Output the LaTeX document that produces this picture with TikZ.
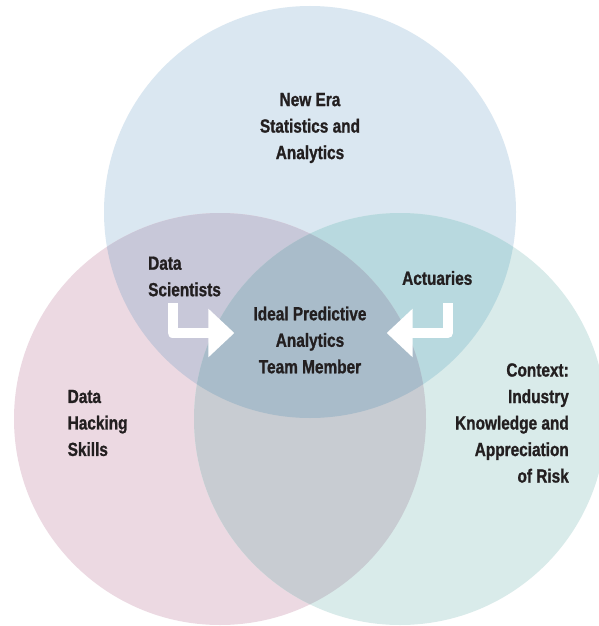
\documentclass[tikz,border=0pt]{standalone}
\usepackage{fontspec}
\setmainfont{Liberation Sans}[FakeStretch=0.81, BoldFeatures={FakeBold=1}]
\usetikzlibrary{arrows.meta,positioning}

\definecolor{eraBlue}{HTML}{DAE7F1}
\definecolor{hackPink}{HTML}{ECD9E2}
\definecolor{riskTeal}{HTML}{D9EBEA}
\definecolor{blueOverPink}{HTML}{C8C8D9}
\definecolor{blueOverTeal}{HTML}{B8D9DF}
\definecolor{pinkOverTeal}{HTML}{C8CCD2}
\definecolor{allThree}{HTML}{A9BCCA}
\definecolor{inkDark}{HTML}{231F20}

\tikzset{
  venntext/.style={font=\fontsize{19}{26.5}\selectfont\bfseries, text=inkDark, inner sep=0pt},
  bentarrow/.style={draw=white, line width=10pt, line join=round, -{Triangle[width=47pt,length=26pt]}}
}

\begin{document}
\begin{tikzpicture}[x=1pt,y=-1pt]
\useasboundingbox (0,0) rectangle (599,626);
\fill[white] (0,0) rectangle (599,626);

% The three sets
\def\rad{206}
\coordinate (era) at (310,212);
\coordinate (hack) at (220,419);
\coordinate (risk) at (400,419);

\fill[eraBlue] (era) circle (\rad);
\fill[hackPink] (hack) circle (\rad);
\fill[riskTeal] (risk) circle (\rad);

% Overlaps
\begin{scope}
  \clip (era) circle (\rad);
  \fill[blueOverPink] (hack) circle (\rad);
  \fill[blueOverTeal] (risk) circle (\rad);
\end{scope}
\begin{scope}
  \clip (hack) circle (\rad);
  \fill[pinkOverTeal] (risk) circle (\rad);
  \clip (era) circle (\rad);
  \fill[allThree] (risk) circle (\rad);
\end{scope}

% Labels
\node[venntext, align=center] (stats) at (310,128) {New Era\\Statistics and\\Analytics};
\node[venntext, align=left, anchor=west] (hacking) at (67.5,423) {Data\\Hacking\\Skills};
\node[venntext, align=right, anchor=east] (context) at (569,423) {Context:\\Industry\\Knowledge and\\Appreciation\\of Risk};
\node[venntext, align=left, anchor=west] (scientists) at (148,276.5) {Data\\Scientists};
\node[venntext, anchor=west] (actuaries) at (402,278) {Actuaries};
\node[venntext, align=center] (ideal) at (310,340) {Ideal Predictive\\Analytics\\Team Member};

% Arrows into the centre
\coordinate (scientistsTail) at (172.5,303);
\coordinate (actuariesTail) at (448,303);
\draw[bentarrow] (scientistsTail) |- ([xshift=-19pt,yshift=7pt]ideal.west);
\draw[bentarrow] (actuariesTail) |- ([xshift=20pt,yshift=7pt]ideal.east);
\end{tikzpicture}
\end{document}
